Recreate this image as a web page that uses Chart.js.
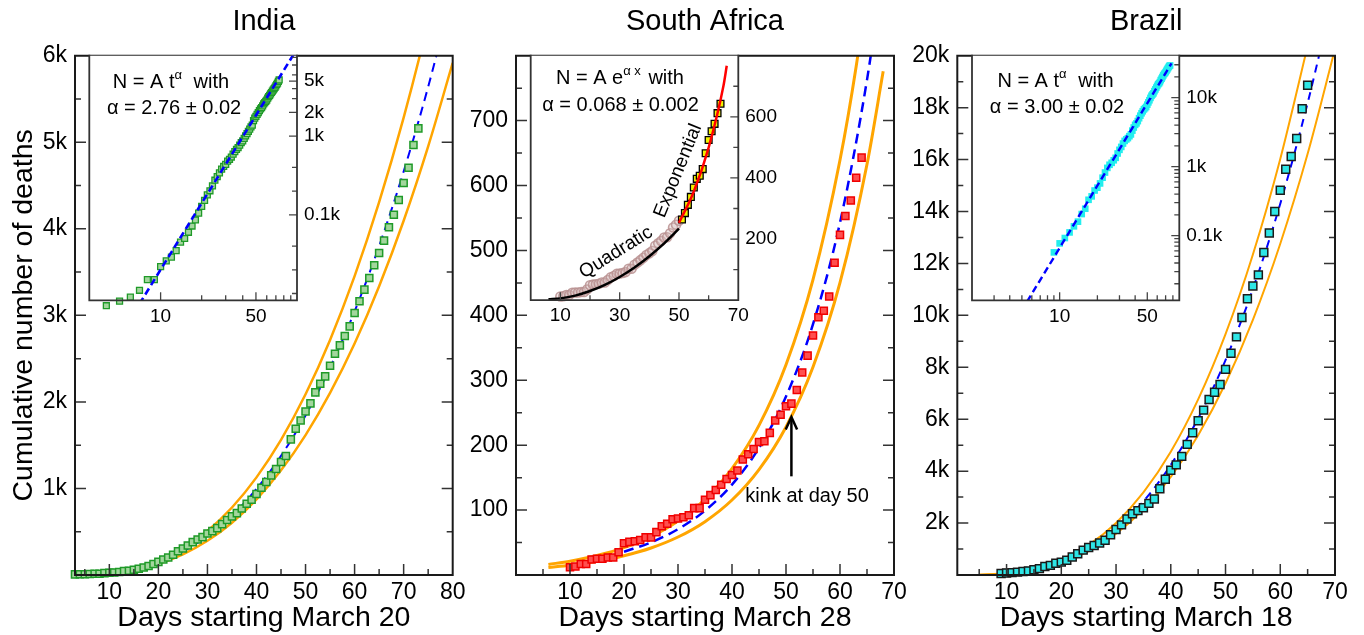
<!DOCTYPE html>
<html><head><meta charset="utf-8"><title>Cumulative number of deaths</title>
<script src="https://cdn.jsdelivr.net/npm/chart.js@4.4.1/dist/chart.umd.min.js"></script>
<style>
html,body{margin:0;padding:0;background:#fff;}
#wrap{position:relative;width:1364px;height:635px;overflow:hidden;background:#fff}
#wrap canvas{position:absolute;left:0;top:0;width:1364px;height:635px}
</style></head>
<body><div id="wrap">
<canvas id="mIndia" width="1364" height="635"></canvas>
<canvas id="mSA" width="1364" height="635"></canvas>
<canvas id="mBrazil" width="1364" height="635"></canvas>
<canvas id="iIndia" width="1364" height="635"></canvas>
<canvas id="iSA" width="1364" height="635"></canvas>
<canvas id="iBrazil" width="1364" height="635"></canvas>
</div>
<script>
// ================= DATA =================
// ---- India (days starting March 20) ----
const indiaDays = [3,4,5,6,7,8,9,10,11,12,13,14,15,16,17,18,19,20,21,22,23,24,25,26,27,28,29,30,31,32,33,34,35,36,37,38,39,40,41,42,43,44,45,46,47,48,49,50,51,52,53,54,55,56,57,58,59,60,61,62,63,64,65,66,67,68,69,70,71,72,73];
const indiaDeaths = [7,8,9,11,15,15,22,26,29,35,45,50,60,72,86,105,128,152,179,202,233,275,306,341,380,411,438,480,507,542,588,635,677,715,769,823,869,935,1008,1074,1151,1224,1305,1374,1567,1690,1786,1890,1983,2110,2210,2295,2418,2557,2653,2761,2873,3027,3162,3297,3431,3578,3720,3863,4017,4163,4333,4529,4706,4968,5160];
const indiaFitDays = [10,15,20,25,30,35,40,45,50,55,60,65,70,75,80];
const indiaFitCentral = [21.7,66.4,146.8,272,450,688,995,1377,1842,2396,3046,3800,4662,5641,6740];
const indiaFitUpper = [24.6,75.3,166.4,308,510,780,1128,1561,2088,2716,3453,4307,5284,6394,7640];
const indiaFitLower = [19.1,58.3,128.9,239,395,604,874,1209,1617,2104,2674,3336,4093,4953,5918];
const indiaInsetShift = 1;
const indiaInsetFitT = [7, 100];
const indiaInsetFitN = [7.4, 12800];
const indiaXTicks = [5,10,15,20,25,30,35,40,45,50,55,60,65,70,75,80];
const indiaYTicks = [500,1000,1500,2000,2500,3000,3500,4000,4500,5000,5500,6000];
const indiaInsetXTicks = [10,20,30,40,50,60,70,80,90,100];
const indiaInsetYTicks = [10,20,40,100,200,400,1000,2000,3000,4000,5000,6000,8000,10000];
const indiaInsetXLabels = {10:'10', 50:'50'};
const indiaInsetYLabels = {100:'0.1k', 1000:'1k', 2000:'2k', 5000:'5k'};

// ---- South Africa (days starting March 28) ----
const saDays = [10,11,12,13,14,15,16,17,18,19,20,21,22,23,24,25,26,27,28,29,30,31,32,33,34,35,36,37,38,39,40,41,42,43,44,45,46,47,48,49,50,51,52,53,54,55,56,57,58,59,60,61,62,63,64];
const saDeaths = [12,13,17,17,24,25,25,27,27,35,49,51,52,54,58,58,66,75,79,86,87,89,92,103,103,116,123,131,139,148,154,161,178,186,194,205,206,219,238,247,260,264,285,312,338,369,397,407,429,481,524,553,577,612,643];
const saUpperDays = [6,10,15,20,25,30,35,40,45,50,55,60,63,66];
const saUpper = [16.3,21.3,30.0,42.1,59.1,83.1,116.7,164.0,230.5,323.8,454.9,639.2,783.8,961];
const saCentralDays = [20,25,30,35,40,45,50,55,60,65,68];
const saCentral = [35.8,50.2,70.6,99.1,139.3,195.8,275.0,386.4,542.9,762.8,935.5];
const saLowerDays = [6,10,15,20,25,30,35,40,45,50,55,60,65,68];
const saLower = [11.5,15.0,21.1,29.7,41.6,58.5,82.2,115.5,162.4,228.1,320.5,450.3,632.7,775.9];
const saKinkDay = 51;
const saQuadDays = [6,10,15,20,25,30,35,40,45,50];
const saQuadFit = [3,6,15,30,50,76,107,144,186,234];
const saExpDays = [50,55,60,65,66.1];
const saExpFit = [253,355.5,499.5,701.6,767];
const saXTicks = [5,10,15,20,25,30,35,40,45,50,55,60,65,70];
const saYTicks = [50,100,150,200,250,300,350,400,450,500,550,600,650,700,750,800];
const saInsetXTicks = [10,20,30,40,50,60,70];
const saInsetYTicks = [100,200,300,400,500,600,700,800];
const saInsetXLabels = {10:'10', 30:'30', 50:'50', 70:'70'};
const saInsetYLabels = {200:'200', 400:'400', 600:'600'};

// ---- Brazil (days starting March 18) ----
const brazilDays = [9,10,11,12,13,14,15,16,17,18,19,20,21,22,23,24,25,26,27,28,29,30,31,32,33,34,35,36,37,38,39,40,41,42,43,44,45,46,47,48,49,50,51,52,53,54,55,56,57,58,59,60,61,62,63,64,65];
const brazilDeaths = [57,77,92,111,136,159,205,245,330,370,450,495,570,690,820,958,1062,1135,1235,1340,1550,1750,1930,2160,2358,2480,2590,2760,2930,3325,3690,4035,4240,4570,5030,5480,5940,6350,6760,7040,7340,7920,8540,9170,9920,10640,11130,11560,12420,13170,14000,14820,15630,16120,16810,17960,18860];
const brazilInsetExtraDays = [66,67,68,69,70,71,72,73,74,75,76];
const brazilInsetExtraDeaths = [19900,21000,22000,22650,23450,24500,25600,26750,27850,28800,29300];
const brazilCentralDays = [9,10,15,20,25,30,35,40,45,50,55,60,65,68];
const brazilCentral = [48.3,66.2,223,530,1034,1787,2838,4237,6033,8275,11014,14299,18180,20816];
const brazilUpperDays = [5,10,15,20,25,30,35,40,45,50,55,60,65];
const brazilUpper = [9.3,74.2,250,594,1159,2003,3180,4748,6761,9273,12342,16024,20373];
const brazilLowerDays = [5,10,15,20,25,30,35,40,45,50,55,60,65,70];
const brazilLower = [7.4,59.1,199,473,923,1594,2532,3780,5383,7383,9827,12758,16220,20260];
const brazilInsetFitT = [5.5, 78];
const brazilInsetFitN = [11, 31500];
const brazilXTicks = [5,10,15,20,25,30,35,40,45,50,55,60,65,70];
const brazilYTicks = [1000,2000,3000,4000,5000,6000,7000,8000,9000,10000,11000,12000,13000,14000,15000,16000,17000,18000,19000,20000];
const brazilInsetXTicks = [3,4,5,6,7,8,9,10,20,30,40,50,60,70,80,90];
const brazilInsetYTicks = [20,30,40,50,60,70,80,90,100,200,300,400,500,600,700,800,900,1000,2000,3000,4000,5000,6000,7000,8000,9000,10000,20000,30000,40000];
const brazilInsetXLabels = {10:'10', 50:'50'};
const brazilInsetYLabels = {100:'0.1k', 1000:'1k', 10000:'10k'};

// ================= RENDERING =================
const W = 1364, H = 635;
const FONT = "'Liberation Sans', Arial, Helvetica, sans-serif";
Chart.defaults.font.family = FONT;
Chart.defaults.color = '#000';
const ORANGE = '#ffa500', BLUE = '#0000ff';

function pts(xs, ys) { return xs.map((x, i) => ({ x: x, y: ys[i] })); }

function framePlugin(key, o) {
  return {
    id: 'frame_' + key,
    beforeDraw(chart) {
      if (!o.fill) return;
      const a = chart.chartArea, ctx = chart.ctx;
      ctx.save(); ctx.fillStyle = o.fill;
      ctx.fillRect(a.left, a.top, a.right - a.left, a.bottom - a.top);
      ctx.restore();
    },
    afterDraw(chart) {
      const a = chart.chartArea, ctx = chart.ctx;
      const xs = chart.scales.x, ys = chart.scales.y;
      ctx.save();
      ctx.strokeStyle = o.tickColor; ctx.lineWidth = o.tickWidth; ctx.lineCap = 'butt';
      ctx.beginPath();
      xs.ticks.forEach(t => {
        const p = xs.getPixelForValue(t.value);
        if (p < a.left + 1 || p > a.right - 1) return;
        const len = t.label ? o.major : o.minor;
        ctx.moveTo(p, a.bottom); ctx.lineTo(p, a.bottom - len);
      });
      ys.ticks.forEach(t => {
        const p = ys.getPixelForValue(t.value);
        if (p < a.top + 1 || p > a.bottom - 1) return;
        const len = t.label ? o.major : o.minor;
        if (o.yLeft) { ctx.moveTo(a.left, p); ctx.lineTo(a.left + len, p); }
        if (o.yRight) { ctx.moveTo(a.right, p); ctx.lineTo(a.right - len, p); }
      });
      ctx.stroke();
      ctx.strokeStyle = o.color; ctx.lineWidth = o.width; ctx.lineCap = 'square';
      ctx.beginPath();
      if (o.top) { ctx.moveTo(a.left, a.top); ctx.lineTo(a.right, a.top); }
      ctx.moveTo(a.left, a.top); ctx.lineTo(a.left, a.bottom);
      ctx.lineTo(a.right, a.bottom); ctx.lineTo(a.right, a.top);
      ctx.stroke();
      ctx.restore();
    }
  };
}

function drawRich(ctx, cx, cy, parts) {
  let total = 0;
  parts.forEach(p => {
    ctx.font = p.size + 'px ' + FONT;
    p.w = ctx.measureText(p.t).width;
    total += p.w + (p.gap || 0);
  });
  let x = cx - total / 2;
  const base = cy + 0.358 * parts[0].size;
  ctx.textAlign = 'left'; ctx.textBaseline = 'alphabetic'; ctx.fillStyle = '#000';
  parts.forEach(p => {
    ctx.font = p.size + 'px ' + FONT;
    ctx.fillText(p.t, x, base - (p.rise || 0));
    x += p.w + (p.gap || 0);
  });
}

function textPlugin(key, items) {
  return {
    id: 'text_' + key,
    afterDraw(chart) {
      const ctx = chart.ctx, a = chart.chartArea;
      ctx.save();
      items.forEach(it => {
        let cx, cy;
        if (it.data) { cx = chart.scales.x.getPixelForValue(it.x); cy = chart.scales.y.getPixelForValue(it.y); }
        else { cx = a.left + it.fx * (a.right - a.left); cy = a.top + it.fy * (a.bottom - a.top); }
        if (it.kind === 'rich') {
          drawRich(ctx, cx, cy, it.parts);
        } else if (it.kind === 'rot') {
          ctx.save(); ctx.translate(cx, cy); ctx.rotate(it.angle * Math.PI / 180);
          ctx.font = it.size + 'px ' + FONT; ctx.fillStyle = '#000';
          ctx.textAlign = 'center'; ctx.textBaseline = 'middle';
          ctx.fillText(it.text, 0, 0); ctx.restore();
        } else if (it.kind === 'arrow') {
          const ys = chart.scales.y;
          const tip = ys.getPixelForValue(it.y1), tail = ys.getPixelForValue(it.y0);
          ctx.strokeStyle = '#000'; ctx.lineWidth = 2.5; ctx.lineCap = 'butt';
          ctx.beginPath(); ctx.moveTo(cx, tail); ctx.lineTo(cx, tip + 1); ctx.stroke();
          ctx.beginPath(); ctx.moveTo(cx - 5.7, tip + 12.5); ctx.lineTo(cx, tip); ctx.lineTo(cx + 5.7, tip + 12.5); ctx.stroke();
        }
      });
      ctx.restore();
    }
  };
}

function mkScale(o) {
  return {
    type: o.type || 'linear', position: o.position, min: o.min, max: o.max, bounds: 'data',
    afterBuildTicks: s => { s.ticks = o.ticks.map(v => ({ value: v })); },
    afterFit: s => { if (o.height !== undefined) s.height = o.height; if (o.width !== undefined) s.width = o.width; },
    grid: { display: false, drawTicks: false }, border: { display: false },
    ticks: { autoSkip: false, maxRotation: 0, minRotation: 0, padding: o.pad, font: { size: o.fontSize }, color: '#000', callback: o.label },
    title: o.title ? { display: true, text: o.title, font: { size: 28.5 }, color: '#000', padding: o.titlePad } : { display: false }
  };
}

const commonOpts = { responsive: false, animation: false, devicePixelRatio: 1, events: [] };

function mainChart(id, c) {
  return new Chart(document.getElementById(id), {
    type: 'scatter',
    data: { datasets: c.datasets },
    options: Object.assign({}, commonOpts, {
      layout: { autoPadding: false, padding: { left: c.l - c.yW, right: W - c.r, top: 0, bottom: 0 } },
      plugins: {
        legend: { display: false }, tooltip: { enabled: false },
        title: { display: true, text: c.title, fullSize: false, color: '#000', font: { size: 29, weight: 'normal' }, padding: { top: 4.1, bottom: 16.8 } }
      },
      scales: {
        x: mkScale({ position: 'bottom', min: c.xMin, max: c.xMax, ticks: c.xTicks, label: c.xLabel, height: H - c.b, pad: 4, fontSize: 23, title: c.xTitle, titlePad: { top: 0, bottom: 0 } }),
        y: mkScale({ position: 'left', min: c.yMin, max: c.yMax, ticks: c.yTicks, label: c.yLabel, width: c.yW, pad: 8, fontSize: 23, title: c.yTitle, titlePad: { top: 6.6, bottom: 0 } })
      }
    }),
    plugins: [framePlugin(id, { color: '#1a1a1a', width: 2, tickColor: '#333', tickWidth: 1.5, major: 11, minor: 6, yLeft: true, yRight: true, top: true }), textPlugin(id, c.texts || [])]
  });
}

function insetChart(id, c) {
  const yW = 60, xH = 35;
  return new Chart(document.getElementById(id), {
    type: 'scatter',
    data: { datasets: c.datasets },
    options: Object.assign({}, commonOpts, {
      layout: { autoPadding: false, padding: { left: c.l, right: W - c.r - yW, top: c.t, bottom: H - c.b - xH } },
      plugins: { legend: { display: false }, tooltip: { enabled: false }, title: { display: false } },
      scales: {
        x: mkScale({ type: c.xType, position: 'bottom', min: c.xMin, max: c.xMax, ticks: c.xTicks, label: c.xLabel, height: xH, pad: 4.6, fontSize: 19 }),
        y: mkScale({ type: c.yType, position: 'right', min: c.yMin, max: c.yMax, ticks: c.yTicks, label: c.yLabel, width: yW, pad: 7, fontSize: 19 })
      }
    }),
    plugins: [framePlugin(id, { fill: '#fff', color: '#333', width: 1.8, tickColor: '#444', tickWidth: 1.3, major: 8, minor: 5, yLeft: false, yRight: true, top: false }), textPlugin(id, c.texts || [])]
  });
}

function lineDS(xs, ys, color, width, dash) {
  return { data: pts(xs, ys), showLine: true, pointRadius: 0, borderColor: color, borderWidth: width, borderDash: dash || [], cubicInterpolationMode: 'monotone', fill: false };
}
function pointDS(xs, ys, style, r, bg, border, bw) {
  return { data: pts(xs, ys), showLine: false, pointStyle: style, pointRadius: r, pointBackgroundColor: bg, pointBorderColor: border, pointBorderWidth: bw, backgroundColor: bg, borderColor: border, clip: false };
}
function sup(t) { return { t: t, size: 13, rise: 9 }; }

// ---- India main ----
mainChart('mIndia', {
  l: 75, r: 452.7, b: 575, yW: 75, title: 'India',
  xMin: 3, xMax: 80, xTicks: indiaXTicks, xLabel: v => (v % 10 === 0 ? String(v) : ''), xTitle: 'Days starting March 20',
  yMin: 0, yMax: 6000, yTicks: indiaYTicks, yLabel: v => (v % 1000 === 0 ? (v / 1000) + 'k' : ''), yTitle: 'Cumulative number of deaths',
  datasets: [
    pointDS(indiaDays, indiaDeaths, 'rect', 5, '#a3d69d', '#1f9a28', 1.5),
    lineDS(indiaFitDays, indiaFitCentral, BLUE, 2, [9, 6]),
    lineDS(indiaFitDays, indiaFitUpper, ORANGE, 2.5),
    lineDS(indiaFitDays, indiaFitLower, ORANGE, 2.5)
  ]
});

// ---- South Africa main ----
mainChart('mSA', {
  l: 516, r: 894, b: 575, yW: 60, title: 'South Africa',
  xMin: 0, xMax: 70, xTicks: saXTicks, xLabel: v => (v % 10 === 0 ? String(v) : ''), xTitle: 'Days starting March 28',
  yMin: 0, yMax: 800, yTicks: saYTicks, yLabel: v => (v % 100 === 0 && v < 800 ? String(v) : ''),
  datasets: [
    pointDS(saDays, saDeaths, 'rect', 5, '#ff4f4f', '#f00000', 1.5),
    lineDS(saCentralDays, saCentral, BLUE, 2.5, [10, 6]),
    lineDS(saUpperDays, saUpper, ORANGE, 3),
    lineDS(saLowerDays, saLower, ORANGE, 3)
  ],
  texts: [
    { kind: 'arrow', data: true, x: saKinkDay, y: 243.5, y0: 152, y1: 243.5 },
    { kind: 'rich', data: true, x: 53.9, y: 123, parts: [{ t: 'kink at day 50', size: 20 }] }
  ]
});

// ---- Brazil main ----
mainChart('mBrazil', {
  l: 957.3, r: 1335, b: 575, yW: 70, title: 'Brazil',
  xMin: 1, xMax: 70, xTicks: brazilXTicks, xLabel: v => (v % 10 === 0 ? String(v) : ''), xTitle: 'Days starting March 18',
  yMin: 0, yMax: 20000, yTicks: brazilYTicks, yLabel: v => (v % 2000 === 0 ? (v / 1000) + 'k' : ''),
  datasets: [
    pointDS(brazilDays, brazilDeaths, 'rect', 5.6, '#2ee6e6', '#1a1a1a', 1.5),
    lineDS(brazilCentralDays, brazilCentral, BLUE, 2, [8, 6]),
    lineDS(brazilUpperDays, brazilUpper, ORANGE, 2),
    lineDS(brazilLowerDays, brazilLower, ORANGE, 2)
  ]
});

// ---- India inset (log-log) ----
insetChart('iIndia', {
  l: 89.3, r: 297, t: 55.7, b: 300.3,
  xType: 'logarithmic', xMin: 3, xMax: 100, xTicks: indiaInsetXTicks, xLabel: v => indiaInsetXLabels[v] || '',
  yType: 'logarithmic', yMin: 8.2, yMax: 10500, yTicks: indiaInsetYTicks, yLabel: v => indiaInsetYLabels[v] || '',
  datasets: [
    lineDS(indiaInsetFitT, indiaInsetFitN, BLUE, 2.6, [7, 4]),
    pointDS(indiaDays.map(d => d + indiaInsetShift), indiaDeaths, 'rect', 4.2, '#a3d69d', '#1f9a28', 1.3)
  ],
  texts: [
    { kind: 'rich', fx: 0.393, fy: 0.101, parts: [{ t: 'N = A t', size: 20 }, Object.assign(sup('\u03b1'), { gap: 6 }), { t: ' with', size: 20 }] },
    { kind: 'rich', fx: 0.408, fy: 0.2085, parts: [{ t: '\u03b1 = 2.76 \u00b1 0.02', size: 20 }] }
  ]
});

// ---- South Africa inset (linear) ----
const saSplit = saDays.indexOf(saKinkDay);
insetChart('iSA', {
  l: 530.7, r: 738.3, t: 55.7, b: 300.2,
  xType: 'linear', xMin: 0, xMax: 70, xTicks: saInsetXTicks, xLabel: v => saInsetXLabels[v] || '',
  yType: 'linear', yMin: 0, yMax: 800, yTicks: saInsetYTicks, yLabel: v => saInsetYLabels[v] || '',
  datasets: [
    lineDS(saQuadDays, saQuadFit, '#000', 2.5),
    lineDS(saExpDays, saExpFit, '#ff0000', 2.5),
    pointDS(saDays.slice(saSplit), saDeaths.slice(saSplit), 'rect', 4.8, '#f2f200', '#000', 1.3),
    pointDS(saDays.slice(0, saSplit), saDeaths.slice(0, saSplit), 'circle', 4.5, 'rgba(215,190,190,0.35)', 'rgba(185,145,145,0.85)', 1.6)
  ],
  texts: [
    { kind: 'rich', fx: 0.430, fy: 0.086, parts: [{ t: 'N = A e', size: 20 }, Object.assign(sup('\u03b1 x'), { gap: 2 }), { t: ' with', size: 20 }] },
    { kind: 'rich', fx: 0.4326, fy: 0.195, parts: [{ t: '\u03b1 = 0.068 \u00b1 0.002', size: 20 }] },
    { kind: 'rot', fx: 0.411, fy: 0.805, angle: -32, size: 19, text: 'Quadratic' },
    { kind: 'rot', fx: 0.710, fy: 0.471, angle: -68, size: 19, text: 'Exponential' }
  ]
});

// ---- Brazil inset (log-log) ----
insetChart('iBrazil', {
  l: 972, r: 1179.3, t: 55.7, b: 300.3,
  xType: 'logarithmic', xMin: 2, xMax: 90, xTicks: brazilInsetXTicks, xLabel: v => brazilInsetXLabels[v] || '',
  yType: 'logarithmic', yMin: 11.5, yMax: 40600, yTicks: brazilInsetYTicks, yLabel: v => brazilInsetYLabels[v] || '',
  datasets: [
    lineDS(brazilInsetFitT, brazilInsetFitN, BLUE, 2.4, [7, 4]),
    pointDS(brazilDays.concat(brazilInsetExtraDays), brazilDeaths.concat(brazilInsetExtraDeaths), 'rect', 4.7, '#22eeee', '#22eeee', 0)
  ],
  texts: [
    { kind: 'rich', fx: 0.403, fy: 0.099, parts: [{ t: 'N = A t', size: 20 }, Object.assign(sup('\u03b1'), { gap: 6 }), { t: ' with', size: 20 }] },
    { kind: 'rich', fx: 0.41, fy: 0.206, parts: [{ t: '\u03b1 = 3.00 \u00b1 0.02', size: 20 }] }
  ]
});
</script>
</body></html>
